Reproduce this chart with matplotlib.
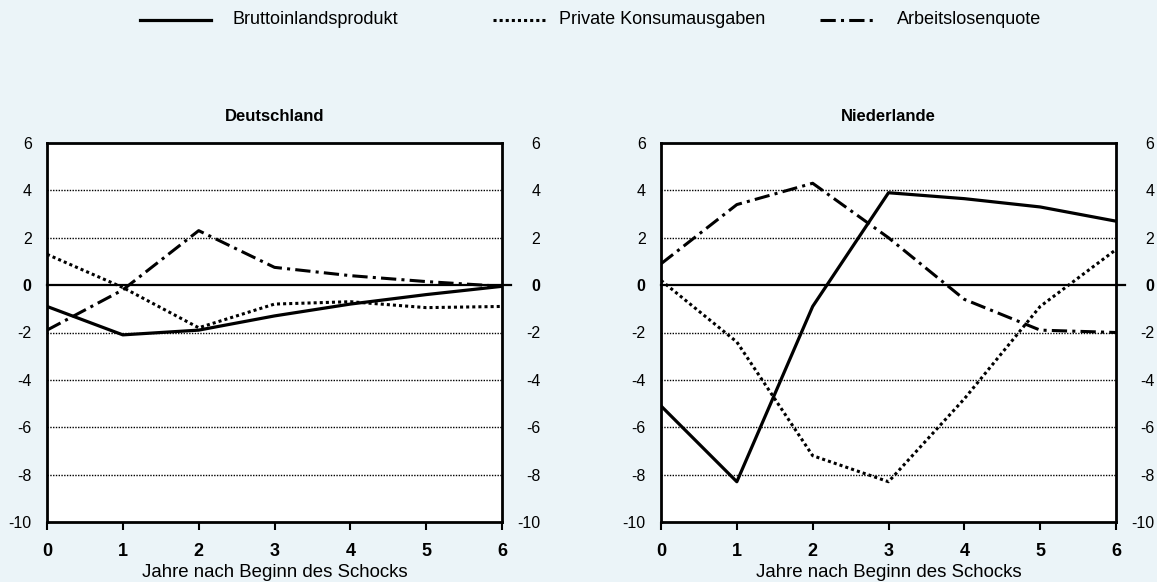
import numpy as np
import matplotlib.pyplot as plt
from matplotlib.lines import Line2D

plt.rcParams['font.family'] = ['Liberation Sans', 'DejaVu Sans']

years = [0, 1, 2, 3, 4, 5, 6]
series_names = ['Bruttoinlandsprodukt', 'Private Konsumausgaben', 'Arbeitslosenquote']

# Deutschland
de_bip = [-0.9, -2.1, -1.9, -1.3, -0.8, -0.4, -0.05]
de_konsum = [1.3, -0.1, -1.8, -0.8, -0.7, -0.95, -0.9]
de_alq = [-1.9, -0.2, 2.3, 0.75, 0.4, 0.15, -0.05]

# Niederlande
nl_bip = [-5.1, -8.3, -0.9, 3.9, 3.65, 3.3, 2.7]
nl_konsum = [0.2, -2.4, -7.2, -8.3, -4.8, -0.9, 1.5]
nl_alq = [0.9, 3.4, 4.3, 2.0, -0.6, -1.9, -2.0]

bg = '#ebf4f8'
styles = [dict(ls='-', lw=2.3),
          dict(ls=(0, (1, 1)), lw=2.2),
          dict(ls=(0, (5, 1.7, 1, 1.7)), lw=2.2)]

W, H = 1157, 582
fig = plt.figure(figsize=(W / 100, H / 100), dpi=100, facecolor=bg)


def ticklabels(ax, pad, ha=None):
    ax.set_yticks(range(-10, 7, 2))
    ax.set_yticklabels([str(y) for y in range(-10, 7, 2)])
    ax.tick_params(axis='y', length=0, pad=pad, labelsize=11.5)
    for lbl in ax.get_yticklabels():
        if ha:
            lbl.set_horizontalalignment(ha)
        if lbl.get_text() == '0':
            lbl.set_fontweight('bold')


def panel(x0, title, data):
    ax = fig.add_axes([x0 / W, 1 - 522 / H, 455 / W, 379 / H])
    ax.set_facecolor('white')
    ax.set_xlim(0, 6)
    ax.set_ylim(-10, 6)
    for y in range(-8, 6, 2):
        if y != 0:
            ax.axhline(y, color='black', lw=1.0, ls=(0, (1, 1)), zorder=1)
    ax.plot([0, 6.12], [0, 0], color='black', lw=1.6, clip_on=False, zorder=2)
    for vals, st in zip(data, styles):
        ax.plot(years, vals, color='black', zorder=3, **st)
    for s in ax.spines.values():
        s.set_linewidth(2)
    ax.set_xticks(years)
    ax.set_xticklabels([str(y) for y in years], fontweight='bold', fontsize=13)
    ax.tick_params(axis='x', length=6, width=1.5, direction='out', pad=9)
    ticklabels(ax, 11)
    ax.set_xlabel('Jahre nach Beginn des Schocks', fontsize=13.4, labelpad=3)
    ax.set_title(title, fontweight='bold', fontsize=12, pad=16)

    # right-hand scale, labels flush right
    ax2 = ax.twinx()
    ax2.set_ylim(-10, 6)
    ticklabels(ax2, 27.5, ha='right')
    for s in ax2.spines.values():
        s.set_visible(False)
    return ax


panel(47, 'Deutschland', [de_bip, de_konsum, de_alq])
panel(661, 'Niederlande', [nl_bip, nl_konsum, nl_alq])

# legend row along the top
leg_y = 1 - 20 / H
leg_items = [(140, 211, 232), (493, 545, 559), (820, 874, 897)]
for (h0, h1, tx), name, st in zip(leg_items, series_names, styles):
    fig.add_artist(Line2D([h0 / W, h1 / W], [leg_y, leg_y], color='black',
                          transform=fig.transFigure, **st))
    fig.text(tx / W, leg_y, name, fontsize=13, va='center', ha='left')

fig.savefig('out.png', dpi=100, facecolor=bg)
